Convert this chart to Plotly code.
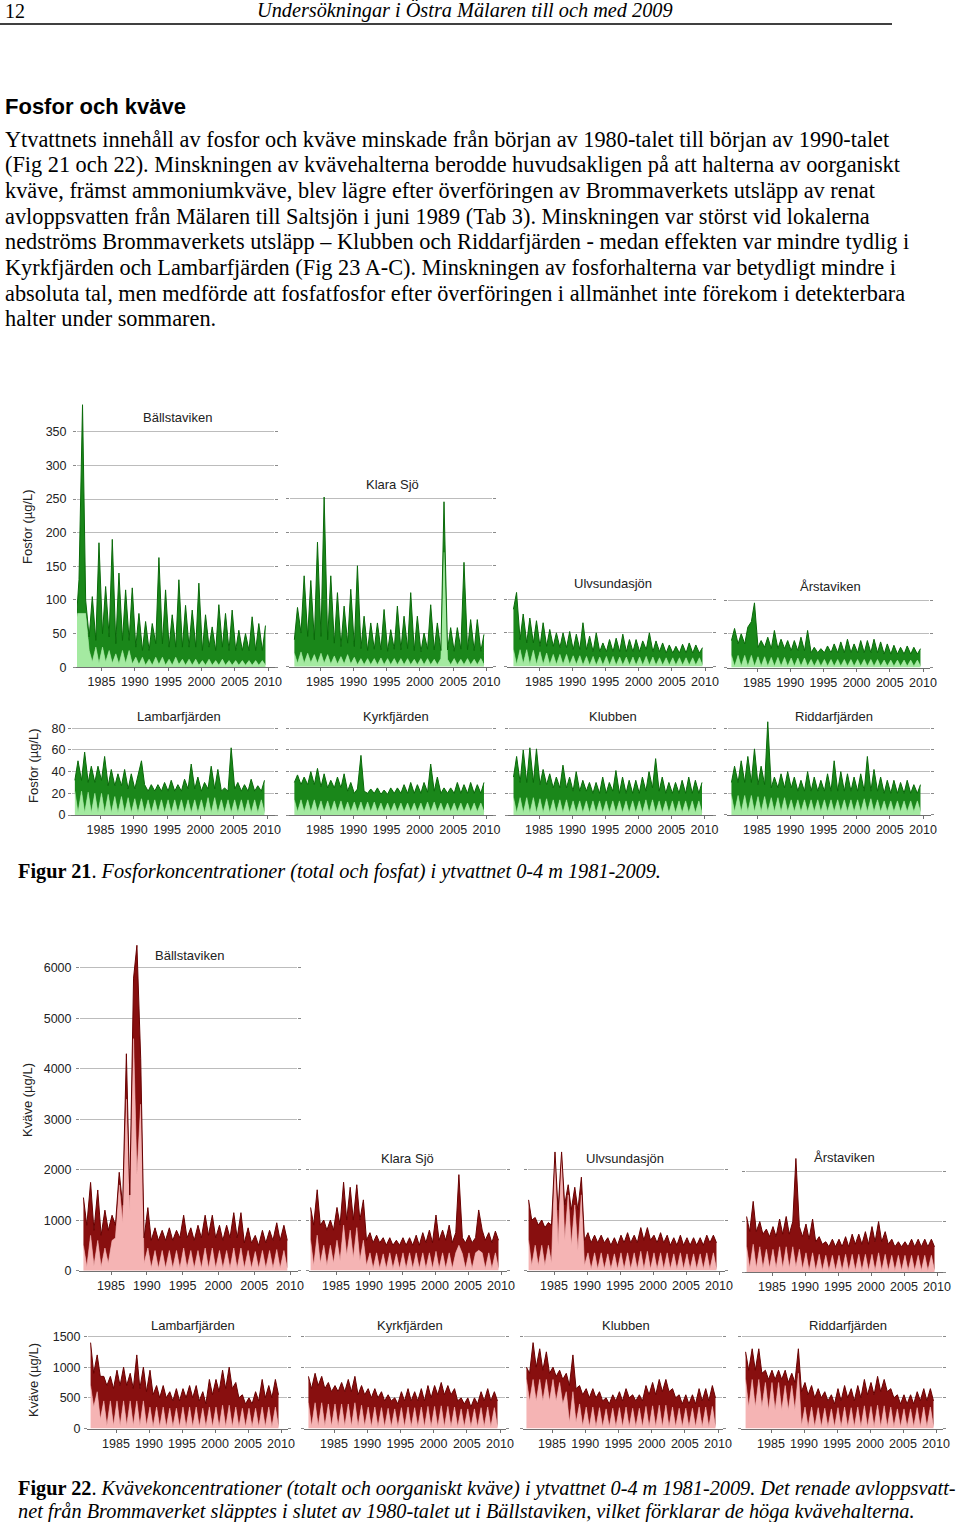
import plotly.graph_objects as go

W, H = 960, 1522

# sampling: one late-winter and one late-summer value per year
YEARS = list(range(1981, 2010))
SEASONS = [0.15, 0.62]
T = [y + s for y in YEARS for s in SEASONS]
XTICKS = [1985, 1990, 1995, 2000, 2005, 2010]

# ---- Figur 21: fosfor, total (upper) and fosfat (lower), ug/L ----
P_BALL_TOT = [60, 130, 390, 100, 45, 105, 40, 185, 50, 120, 45, 190, 35, 140, 40, 115, 40, 118, 30, 80,
              25, 68, 25, 65, 35, 163, 35, 115, 30, 78, 30, 130, 30, 92, 30, 85, 30, 125, 25, 78,
              30, 60, 25, 93, 30, 80, 25, 85, 25, 55, 25, 50, 25, 75, 25, 65, 25, 62]
P_BALL_PO4 = [80, 80, 80, 80, 25, 8, 30, 6, 30, 8, 25, 6, 20, 5, 25, 6, 25, 5, 15, 4,
              15, 3, 12, 3, 15, 4, 15, 3, 12, 3, 15, 4, 12, 3, 12, 3, 12, 3, 10, 3,
              12, 3, 10, 3, 12, 3, 10, 3, 10, 3, 10, 3, 10, 3, 10, 3, 10, 3]
P_KLARA_TOT = [40, 88, 50, 135, 45, 128, 40, 185, 45, 252, 40, 135, 35, 110, 30, 90, 35, 115, 30, 150,
               27, 75, 24, 65, 26, 65, 25, 85, 23, 55, 26, 90, 25, 75, 27, 110, 24, 75, 22, 50,
               26, 92, 25, 65, 24, 245, 25, 58, 23, 58, 26, 155, 25, 70, 24, 70, 23, 48]
P_KLARA_PO4 = [20, 5, 22, 5, 20, 6, 18, 5, 20, 5, 18, 4, 16, 4, 15, 4, 18, 4, 14, 3,
               12, 3, 12, 3, 12, 3, 13, 3, 12, 3, 12, 3, 12, 3, 12, 3, 11, 3, 12, 3,
               12, 3, 11, 3, 12, 170, 11, 3, 12, 3, 11, 3, 12, 3, 11, 3, 12, 3]
P_ULV_TOT = [85, 110, 40, 78, 35, 72, 35, 68, 30, 65, 30, 55, 30, 50, 28, 50, 28, 52, 25, 48,
             25, 65, 25, 45, 22, 50, 22, 35, 22, 40, 22, 42, 22, 48, 22, 40, 22, 40, 22, 38,
             25, 50, 22, 38, 22, 35, 20, 32, 20, 30, 20, 33, 20, 35, 20, 32, 20, 28]
P_ULV_PO4 = [25, 3, 25, 4, 25, 3, 24, 3, 22, 3, 20, 3, 18, 3, 18, 3, 18, 3, 16, 3,
             16, 2, 15, 2, 15, 2, 14, 2, 15, 2, 15, 2, 14, 2, 14, 2, 14, 2, 14, 2,
             15, 2, 14, 2, 13, 2, 13, 2, 13, 2, 13, 2, 13, 2, 13, 2, 13, 2]
P_ARS_TOT = [40, 58, 35, 50, 35, 60, 68, 96, 30, 40, 30, 45, 28, 55, 28, 42, 28, 40, 25, 40,
             25, 45, 25, 55, 22, 30, 22, 28, 22, 32, 22, 35, 22, 38, 22, 42, 22, 35, 22, 40,
             22, 40, 22, 42, 22, 38, 20, 35, 20, 33, 20, 30, 20, 32, 20, 30, 20, 28]
P_ARS_PO4 = [18, 2, 18, 2, 18, 2, 18, 2, 16, 2, 16, 2, 15, 2, 15, 2, 15, 2, 14, 2,
             14, 2, 14, 2, 12, 2, 12, 2, 12, 2, 12, 2, 12, 2, 12, 2, 12, 2, 12, 2,
             12, 2, 12, 2, 12, 2, 11, 2, 11, 2, 11, 2, 11, 2, 11, 2, 11, 2]
P_LAMB_TOT = [32, 50, 32, 58, 30, 45, 30, 45, 32, 54, 27, 42, 27, 38, 27, 42, 24, 38, 24, 35,
              50, 28, 22, 28, 22, 28, 22, 30, 22, 32, 22, 28, 22, 33, 24, 47, 24, 35, 22, 30,
              24, 45, 24, 42, 22, 25, 22, 62, 24, 30, 22, 28, 22, 33, 22, 27, 22, 32]
P_LAMB_PO4 = [22, 2, 22, 2, 21, 2, 20, 2, 20, 2, 19, 2, 17, 2, 17, 2, 16, 2, 15, 2,
              15, 2, 14, 2, 14, 2, 14, 2, 14, 2, 14, 2, 14, 2, 14, 2, 14, 2, 14, 2,
              16, 2, 16, 2, 14, 2, 14, 2, 14, 2, 14, 2, 14, 2, 14, 2, 14, 2]
P_KYRK_TOT = [30, 37, 28, 35, 28, 40, 28, 43, 26, 38, 25, 32, 25, 35, 25, 38, 22, 30, 20, 24,
              55, 22, 20, 24, 20, 25, 19, 23, 19, 25, 20, 25, 20, 28, 20, 30, 20, 28, 20, 30,
              21, 47, 22, 35, 20, 25, 20, 25, 20, 30, 20, 28, 20, 30, 20, 28, 20, 30]
P_KYRK_PO4 = [14, 3, 14, 3, 14, 3, 14, 3, 13, 3, 13, 3, 13, 3, 13, 3, 12, 3, 12, 3,
              12, 3, 12, 3, 12, 3, 11, 3, 11, 3, 11, 3, 11, 3, 11, 3, 11, 3, 11, 3,
              12, 3, 12, 3, 11, 3, 11, 3, 11, 3, 11, 3, 11, 3, 11, 3, 11, 3]
P_KLUB_TOT = [35, 54, 30, 60, 30, 62, 30, 61, 28, 42, 28, 38, 25, 35, 25, 46, 25, 35, 22, 40,
              22, 32, 22, 30, 20, 30, 20, 35, 20, 30, 22, 41, 20, 35, 20, 32, 20, 32, 20, 35,
              22, 40, 25, 52, 22, 35, 20, 30, 20, 30, 20, 32, 20, 35, 20, 32, 20, 30]
P_KLUB_PO4 = [16, 2, 16, 2, 16, 2, 16, 2, 15, 2, 15, 2, 14, 2, 14, 2, 14, 2, 13, 2,
              13, 2, 13, 2, 13, 2, 13, 2, 13, 2, 13, 2, 13, 2, 13, 2, 13, 2, 13, 2,
              14, 2, 14, 2, 13, 2, 13, 2, 13, 2, 13, 2, 13, 2, 13, 2, 13, 2]
P_RIDD_TOT = [30, 45, 30, 50, 30, 54, 30, 61, 28, 45, 28, 86, 25, 35, 25, 38, 25, 40, 25, 35,
              22, 32, 22, 40, 22, 35, 22, 32, 22, 38, 22, 50, 22, 40, 22, 38, 22, 35, 22, 38,
              22, 54, 22, 42, 22, 35, 20, 32, 20, 32, 20, 30, 20, 32, 20, 28, 20, 28]
P_RIDD_PO4 = [18, 3, 18, 3, 18, 3, 18, 3, 17, 3, 17, 3, 16, 3, 16, 3, 16, 3, 14, 3,
              14, 3, 14, 3, 14, 3, 14, 3, 14, 3, 14, 3, 14, 3, 14, 3, 14, 3, 14, 3,
              15, 3, 15, 3, 14, 3, 13, 3, 13, 3, 13, 3, 13, 3, 13, 3, 13, 3]

# ---- Figur 22: kväve, totalt (upper) and oorganiskt (lower), ug/L ----
N_BALL_TOT = [1450, 900, 1750, 800, 1600, 700, 1200, 800, 1100, 900, 1950, 1300, 4300, 1500, 5800, 6450,
              4200, 650, 1250, 600, 850, 600, 800, 600, 850, 600, 800, 650, 1100, 650, 850, 600,
              900, 650, 1100, 700, 1100, 650, 900, 600, 900, 650, 1150, 650, 1150, 550, 850, 550,
              700, 500, 800, 550, 800, 600, 950, 600, 900, 600]
N_BALL_INO = [500, 80, 700, 100, 600, 80, 450, 150, 600, 650, 1700, 950, 3400, 1200, 4600, 1900,
              3300, 150, 450, 60, 400, 50, 400, 50, 400, 50, 400, 50, 450, 60, 400, 50,
              400, 50, 450, 50, 450, 50, 400, 50, 400, 50, 450, 50, 450, 50, 400, 50,
              380, 50, 400, 50, 400, 50, 420, 50, 400, 50]
N_KLARA_TOT = [1250, 900, 1600, 900, 1000, 800, 1000, 800, 1250, 900, 1750, 1000, 1650, 1000, 1700, 1000,
               1400, 600, 750, 550, 700, 550, 650, 500, 650, 500, 600, 500, 650, 500, 650, 500,
               700, 500, 750, 550, 800, 550, 1100, 600, 800, 600, 900, 550, 750, 1900, 650, 550,
               700, 550, 650, 1200, 800, 600, 750, 550, 780, 600]
N_KLARA_INO = [600, 100, 700, 150, 500, 100, 500, 150, 600, 200, 900, 300, 800, 250, 850, 200,
               600, 100, 350, 40, 350, 40, 330, 40, 350, 40, 330, 40, 350, 40, 350, 40,
               350, 40, 350, 40, 350, 40, 380, 40, 350, 40, 350, 40, 350, 500, 330, 40,
               350, 40, 350, 400, 350, 40, 350, 40, 350, 40]
N_ULV_TOT = [1400, 1000, 1050, 900, 1000, 850, 950, 900, 2350, 1200, 2350, 1300, 1700, 1200, 1650, 1200,
             1850, 600, 750, 550, 700, 550, 700, 550, 650, 500, 650, 500, 700, 550, 750, 550,
             700, 550, 850, 600, 850, 600, 700, 550, 750, 550, 700, 500, 650, 500, 700, 500,
             650, 500, 650, 500, 650, 500, 700, 550, 700, 550]
N_ULV_INO = [600, 100, 500, 100, 500, 100, 500, 150, 2200, 500, 2300, 600, 1500, 500, 1300, 400,
             1500, 100, 350, 30, 350, 30, 350, 30, 330, 30, 330, 30, 350, 30, 350, 30,
             350, 30, 380, 30, 380, 30, 350, 30, 350, 30, 350, 30, 330, 30, 350, 30,
             330, 30, 330, 30, 330, 30, 350, 30, 350, 30]
N_ARS_TOT = [1100, 800, 1400, 800, 1000, 750, 850, 700, 900, 700, 1050, 750, 1100, 750, 1000, 2250,
             900, 700, 950, 650, 1050, 600, 700, 550, 600, 500, 650, 500, 650, 500, 700, 500,
             750, 550, 750, 550, 800, 550, 900, 600, 1000, 600, 800, 550, 650, 500, 600, 500,
             600, 500, 650, 500, 650, 500, 650, 500, 650, 500]
N_ARS_INO = [500, 80, 550, 80, 500, 80, 450, 80, 450, 80, 500, 80, 500, 80, 500, 100,
             450, 60, 380, 30, 380, 30, 350, 30, 330, 30, 330, 30, 330, 30, 350, 30,
             350, 30, 350, 30, 350, 30, 350, 30, 380, 30, 350, 30, 330, 30, 330, 30,
             330, 30, 330, 30, 330, 30, 330, 30, 330, 30]
N_LAMB_TOT = [1400, 900, 1200, 850, 850, 700, 850, 650, 950, 700, 1000, 700, 900, 650, 1200, 650,
              1000, 600, 950, 550, 700, 500, 700, 500, 600, 450, 650, 450, 650, 500, 700, 500,
              700, 450, 600, 400, 800, 550, 800, 600, 950, 650, 1000, 650, 750, 500, 550, 400,
              500, 400, 600, 450, 800, 500, 700, 500, 800, 550]
N_LAMB_INO = [700, 350, 600, 150, 450, 50, 450, 50, 450, 50, 450, 50, 450, 50, 450, 50,
              450, 50, 350, 30, 350, 30, 350, 30, 330, 30, 330, 30, 350, 30, 350, 30,
              350, 30, 330, 30, 350, 30, 350, 30, 380, 30, 380, 30, 350, 30, 330, 30,
              330, 30, 330, 30, 350, 30, 350, 30, 350, 30]
N_KYRK_TOT = [850, 650, 900, 700, 850, 650, 750, 600, 700, 600, 750, 600, 800, 600, 850, 550,
              700, 550, 650, 500, 650, 500, 600, 450, 550, 450, 500, 400, 600, 450, 650, 450,
              600, 450, 650, 450, 700, 500, 700, 550, 750, 550, 700, 550, 650, 450, 500, 400,
              500, 350, 500, 400, 600, 450, 650, 450, 600, 450]
N_KYRK_INO = [420, 40, 420, 40, 420, 40, 400, 40, 400, 40, 400, 40, 400, 40, 420, 40,
              380, 40, 350, 30, 350, 30, 340, 30, 330, 30, 320, 30, 340, 30, 350, 30,
              340, 30, 350, 30, 360, 30, 360, 30, 370, 30, 360, 30, 350, 30, 320, 30,
              320, 30, 320, 30, 340, 30, 350, 30, 340, 30]
N_KLUB_TOT = [1000, 900, 1400, 1000, 1300, 950, 1250, 900, 1000, 850, 950, 800, 900, 700, 1200, 650,
              700, 550, 650, 500, 650, 500, 600, 450, 500, 400, 550, 450, 600, 450, 650, 500,
              550, 450, 550, 450, 700, 550, 750, 550, 800, 600, 800, 600, 650, 500, 550, 400,
              550, 400, 550, 400, 650, 450, 650, 450, 700, 500]
N_KLUB_INO = [800, 450, 800, 450, 800, 450, 800, 450, 800, 450, 750, 400, 600, 100, 600, 100,
              400, 40, 350, 30, 350, 30, 340, 30, 320, 30, 330, 30, 340, 30, 350, 30,
              330, 30, 330, 30, 360, 30, 370, 30, 380, 30, 380, 30, 350, 30, 330, 30,
              330, 30, 330, 30, 350, 30, 350, 30, 360, 30]
N_RIDD_TOT = [1250, 950, 1300, 950, 1300, 900, 950, 800, 950, 800, 950, 800, 950, 750, 900, 750,
              1300, 600, 750, 550, 700, 500, 650, 500, 600, 450, 550, 400, 650, 450, 700, 500,
              650, 450, 700, 500, 800, 550, 750, 550, 850, 600, 800, 600, 650, 500, 550, 400,
              550, 400, 550, 400, 600, 450, 650, 450, 650, 450]
N_RIDD_INO = [800, 350, 800, 350, 800, 350, 750, 300, 750, 300, 750, 300, 700, 300, 700, 300,
              900, 50, 350, 30, 350, 30, 340, 30, 330, 30, 320, 30, 340, 30, 350, 30,
              340, 30, 350, 30, 370, 30, 360, 30, 380, 30, 370, 30, 350, 30, 320, 30,
              320, 30, 320, 30, 340, 30, 350, 30, 350, 30]

P_TICKS = [0, 50, 100, 150, 200, 250, 300, 350]
P_TICKS_LOW = [0, 20, 40, 60, 80]
N_TICKS = [0, 1000, 2000, 3000, 4000, 5000, 6000]
N_TICKS_LOW = [0, 500, 1000, 1500]

GREEN_LIGHT = '#a4eaa1'
GREEN = '#1a871a'
GREEN_LINE = '#0a6a0a'
PINK = '#f5b4b4'
RED = '#880f0f'
RED_LINE = '#690202'
GRID = '#bcbcbc'
AXIS = '#707070'
SANS = 'Liberation Sans, Arial, sans-serif'
SERIF = 'Liberation Serif, Times New Roman, serif'


def fx(x):
    return x / W


def fy(y):
    return 1 - y / H


# panel layout in page pixels: left, right, x of 1985 tick, x of 2010 tick,
# y of zero line, y max, pixels per unit, title x/y, y label standoff (None = no labels)
panels = [
    ('Bällstaviken', P_BALL_TOT, P_BALL_PO4, 'P', 77, 274, 101.5, 268, 667.3, 400, 0.6732, P_TICKS, 177, 417, 4),
    ('Klara Sjö', P_KLARA_TOT, P_KLARA_PO4, 'P', 290, 492, 320, 486.5, 666.7, 256, 0.6732, P_TICKS, 392, 484, None),
    ('Ulvsundasjön', P_ULV_TOT, P_ULV_PO4, 'P', 508, 712, 539, 705, 666.5, 112, 0.6732, P_TICKS, 613, 583, None),
    ('Årstaviken', P_ARS_TOT, P_ARS_PO4, 'P', 728, 929, 757, 923, 667.5, 105, 0.6732, P_TICKS, 830, 586, None),
    ('Lambarfjärden', P_LAMB_TOT, P_LAMB_PO4, 'P', 72, 274, 100.5, 267, 815, 82, 1.084, P_TICKS_LOW, 179, 716, 0),
    ('Kyrkfjärden', P_KYRK_TOT, P_KYRK_PO4, 'P', 290, 492, 320, 486.5, 815, 82, 1.084, P_TICKS_LOW, 396, 716, None),
    ('Klubben', P_KLUB_TOT, P_KLUB_PO4, 'P', 509, 712, 539, 704.5, 815, 82, 1.084, P_TICKS_LOW, 613, 716, None),
    ('Riddarfjärden', P_RIDD_TOT, P_RIDD_PO4, 'P', 728, 930, 757, 923, 815, 88, 1.084, P_TICKS_LOW, 834, 716, None),
    ('Bällstaviken', N_BALL_TOT, N_BALL_INO, 'N', 80, 297, 111, 290, 1270.7, 6500, 0.05045, N_TICKS, 189, 955, 2),
    ('Klara Sjö', N_KLARA_TOT, N_KLARA_INO, 'N', 310, 506, 336, 501, 1270.5, 2050, 0.05045, N_TICKS, 407, 1158, None),
    ('Ulvsundasjön', N_ULV_TOT, N_ULV_INO, 'N', 528, 724, 554, 719, 1270.5, 2420, 0.05045, N_TICKS, 625, 1158, None),
    ('Årstaviken', N_ARS_TOT, N_ARS_INO, 'N', 746, 942, 772, 937, 1272, 2300, 0.05045, N_TICKS, 844, 1157, None),
    ('Lambarfjärden', N_LAMB_TOT, N_LAMB_INO, 'N', 88, 287, 116, 281, 1428.5, 1550, 0.06133, N_TICKS_LOW, 193, 1325, 1),
    ('Kyrkfjärden', N_KYRK_TOT, N_KYRK_INO, 'N', 305, 505, 334, 500, 1428.5, 1550, 0.06133, N_TICKS_LOW, 410, 1325, None),
    ('Klubben', N_KLUB_TOT, N_KLUB_INO, 'N', 524, 722, 552, 718, 1428.5, 1550, 0.06133, N_TICKS_LOW, 626, 1325, None),
    ('Riddarfjärden', N_RIDD_TOT, N_RIDD_INO, 'N', 742, 942, 771, 936, 1428.5, 1550, 0.06133, N_TICKS_LOW, 848, 1325, None),
]

fig = go.Figure()
axes = {}
annotations = []

for i, (name, tot, low, kind, L, R, t85, t10, y0, ymax, pxu, yticks, tx, ty, standoff) in enumerate(panels, start=1):
    sfx = '' if i == 1 else str(i)
    if kind == 'P':
        c_low, c_band, c_line = GREEN_LIGHT, GREEN, GREEN_LINE
    else:
        c_low, c_band, c_line = PINK, RED, RED_LINE

    fig.add_trace(go.Scatter(
        x=T, y=low, xaxis='x' + sfx, yaxis='y' + sfx, mode='lines',
        line=dict(width=0.6, color=c_low), fill='tozeroy', fillcolor=c_low,
        hoverinfo='skip'
    ))
    fig.add_trace(go.Scatter(
        x=T, y=tot, xaxis='x' + sfx, yaxis='y' + sfx, mode='lines',
        line=dict(width=1, color=c_line), fill='tonexty', fillcolor=c_band,
        hoverinfo='skip'
    ))

    ppy = (t10 - t85) / 25
    xr = [1985 - (t85 - L) / ppy, 2010 + (R - t10) / ppy]
    top = y0 - ymax * pxu

    axes['xaxis' + sfx] = dict(
        domain=[fx(L), fx(R)], range=xr, anchor='y' + sfx, automargin=False,
        tickvals=XTICKS, ticktext=[str(v) for v in XTICKS],
        showline=True, linecolor=AXIS, linewidth=1.2,
        ticks='outside', ticklen=3, tickcolor=AXIS,
        showgrid=False, zeroline=False,
        tickfont=dict(family=SANS, size=12.5, color='#222222'),
    )
    axes['yaxis' + sfx] = dict(
        domain=[fy(y0), fy(top)], range=[0, ymax], anchor='x' + sfx, automargin=False,
        tickvals=yticks, showgrid=True, gridcolor=GRID, gridwidth=1,
        zeroline=False, showline=True, linecolor='rgba(0,0,0,0)', mirror='ticks',
        ticks='outside', ticklen=3, tickcolor='#8a8a8a',
        showticklabels=standoff is not None, ticklabelstandoff=standoff or 0,
        tickfont=dict(family=SANS, size=12.5, color='#222222'),
    )
    annotations.append(dict(
        x=fx(tx), y=fy(ty), xref='paper', yref='paper', text=name, showarrow=False,
        xanchor='center', yanchor='middle', font=dict(family=SANS, size=13, color='#222222')
    ))

# y axis titles
for txt, x, y in [('Fosfor (µg/L)', 27, 527), ('Fosfor (µg/L)', 33, 766),
                  ('Kväve (µg/L)', 27, 1100), ('Kväve (µg/L)', 33, 1380)]:
    annotations.append(dict(
        x=fx(x), y=fy(y), xref='paper', yref='paper', text=txt, showarrow=False, textangle=-90,
        xanchor='center', yanchor='middle', font=dict(family=SANS, size=13, color='#222222')
    ))

# page header and body text
annotations.append(dict(x=fx(3), y=fy(11), xref='paper', yref='paper', text='12', showarrow=False,
                        xanchor='left', yanchor='middle', font=dict(family=SERIF, size=20, color='black')))
annotations.append(dict(x=fx(465), y=fy(11), xref='paper', yref='paper',
                        text='<i>Undersökningar i Östra Mälaren till och med 2009</i>', showarrow=False,
                        xanchor='center', yanchor='middle', font=dict(family=SERIF, size=20.3, color='black')))
annotations.append(dict(x=fx(3), y=fy(107), xref='paper', yref='paper', text='<b>Fosfor och kväve</b>',
                        showarrow=False, xanchor='left', yanchor='middle',
                        font=dict(family=SANS, size=22, color='black')))

BODY = [
    'Ytvattnets innehåll av fosfor och kväve minskade från början av 1980-talet till början av 1990-talet',
    '(Fig 21 och 22). Minskningen av kvävehalterna berodde huvudsakligen på att halterna av oorganiskt',
    'kväve, främst ammoniumkväve, blev lägre efter överföringen av Brommaverkets utsläpp av renat',
    'avloppsvatten från Mälaren till Saltsjön i juni 1989 (Tab 3). Minskningen var störst vid lokalerna',
    'nedströms Brommaverkets utsläpp – Klubben och Riddarfjärden - medan effekten var mindre tydlig i',
    'Kyrkfjärden och Lambarfjärden (Fig 23 A-C). Minskningen av fosforhalterna var betydligt mindre i',
    'absoluta tal, men medförde att fosfatfosfor efter överföringen i allmänhet inte förekom i detekterbara',
    'halter under sommaren.',
]
for k, line in enumerate(BODY):
    annotations.append(dict(x=fx(3), y=fy(139 + k * 25.7), xref='paper', yref='paper', text=line,
                            showarrow=False, xanchor='left', yanchor='middle',
                            font=dict(family=SERIF, size=22.3, color='black')))

CAPTIONS = [
    ('<b>Figur 21</b>. <i>Fosforkoncentrationer (total och fosfat) i ytvattnet 0-4 m 1981-2009.</i>', 871),
    ('<b>Figur 22</b>. <i>Kvävekoncentrationer (totalt och oorganiskt kväve) i ytvattnet 0-4 m 1981-2009. '
     'Det renade avloppsvatt-</i>', 1488),
    ('<i>net från Brommaverket släpptes i slutet av 1980-talet ut i Bällstaviken, vilket förklarar de höga '
     'kvävehalterna.</i>', 1511),
]
for txt, y in CAPTIONS:
    annotations.append(dict(x=fx(16), y=fy(y), xref='paper', yref='paper', text=txt, showarrow=False,
                            xanchor='left', yanchor='middle', font=dict(family=SERIF, size=20.3, color='black')))

fig.update_layout(
    width=W, height=H,
    margin=dict(l=0, r=0, t=0, b=0, pad=0, autoexpand=False),
    paper_bgcolor='white', plot_bgcolor='white',
    showlegend=False,
    annotations=annotations,
    shapes=[dict(type='line', xref='paper', yref='paper', x0=0, x1=fx(892), y0=fy(24), y1=fy(24),
                 line=dict(color='black', width=1.5))],
    **axes
)

fig.write_html(
    "out.html", config={'displayModeBar': False},
    post_script="document.documentElement.style.margin='0';document.body.style.margin='0';"
                "document.documentElement.style.overflow='hidden';document.body.style.overflow='hidden';"
)
